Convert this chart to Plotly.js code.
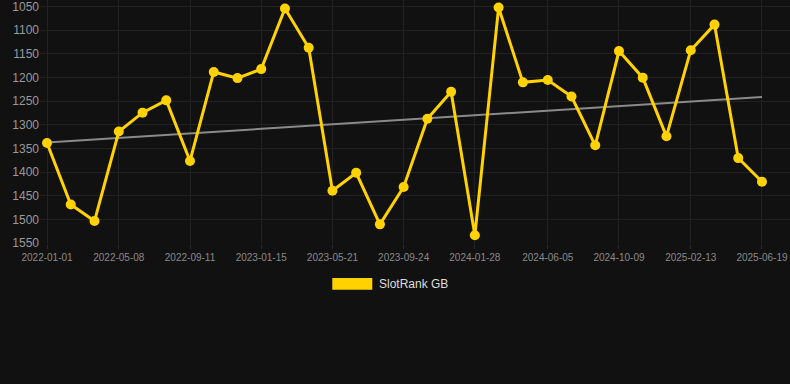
<!DOCTYPE html>
<html>
<head>
<meta charset="utf-8">
<script src="https://cdn.plot.ly/plotly-3.0.1.min.js"></script>
<style>
html,body{margin:0;padding:0;background:#111111;}
#chart{width:790px;height:384px;}
</style>
</head>
<body>
<div id="chart"></div>
<script>
const dates = [
  "2022-01-01","2022-02-12","2022-03-26","2022-05-08","2022-06-19","2022-07-31",
  "2022-09-11","2022-10-23","2022-12-04","2023-01-15","2023-02-26","2023-04-09",
  "2023-05-21","2023-07-02","2023-08-13","2023-09-24","2023-11-05","2023-12-17",
  "2024-01-28","2024-03-10","2024-04-22","2024-06-05","2024-07-17","2024-08-28",
  "2024-10-09","2024-11-20","2025-01-01","2025-02-13","2025-03-27","2025-05-08",
  "2025-06-19"
];
const rankGB = [
  1338,1468,1503,1314,1274,1248,1376,1188,1201,1182,1054,1137,
  1439,1401,1510,1431,1287,1230,1533,1052,1210,1205,1240,1343,
  1144,1200,1324,1142,1088,1370,1420
];
const trendDates = ["2022-01-01","2025-06-19"];
const trendValues = [1337,1241];
const tickDates = ["2022-01-01","2022-05-08","2022-09-11","2023-01-15","2023-05-21",
  "2023-09-24","2024-01-28","2024-06-05","2024-10-09","2025-02-13","2025-06-19"];
const yTicks = [1050,1100,1150,1200,1250,1300,1350,1400,1450,1500,1550];
const seriesName = "SlotRank GB";
const gold = "#FFD200";

const traces = [
  {
    x: trendDates, y: trendValues, type: "scatter", mode: "lines",
    line: {color: "#8a8a8a", width: 2}, hoverinfo: "skip", showlegend: false
  },
  {
    x: dates, y: rankGB, type: "scatter", mode: "lines+markers", name: seriesName,
    line: {color: gold, width: 3},
    marker: {color: gold, size: 10},
    showlegend: false
  }
];

const layout = {
  width: 790, height: 384,
  paper_bgcolor: "#111111", plot_bgcolor: "#111111",
  margin: {l: 40, r: 0, t: 0, b: 140},
  font: {family: "Liberation Sans, Arial, sans-serif", color: "#999"},
  xaxis: {
    type: "date",
    range: ["2021-12-19 14:00", "2025-08-07 14:00"],
    tickvals: tickDates, ticktext: tickDates,
    tickfont: {size: 10, color: "#8a8a8a"},
    gridcolor: "#222222", zeroline: false, showline: false,
    ticks: "outside", ticklen: 4, tickcolor: "#2a2a2a",
    ticklabeloverflow: "allow"
  },
  yaxis: {
    range: [1551.5, 1036],
    tickvals: yTicks,
    tickfont: {size: 12, color: "#9a9a9a"},
    gridcolor: "#222222", zeroline: false, showline: false,
    ticklen: 0,
    ticklabeloverflow: "allow"
  },
  shapes: [
    {type: "rect", xref: "paper", yref: "paper",
     x0: 292.3/750, x1: 332.3/750, y0: -(278-244)/244, y1: -(289.7-244)/244,
     fillcolor: gold, line: {width: 0}}
  ],
  annotations: [
    {xref: "paper", yref: "paper", x: 336.5/750, y: -(284-244)/244,
     xanchor: "left", yanchor: "middle", showarrow: false,
     text: seriesName, font: {size: 12, color: "#dddddd"}}
  ]
};

Plotly.newPlot("chart", traces, layout, {displayModeBar: false, staticPlot: true});
</script>
</body>
</html>
